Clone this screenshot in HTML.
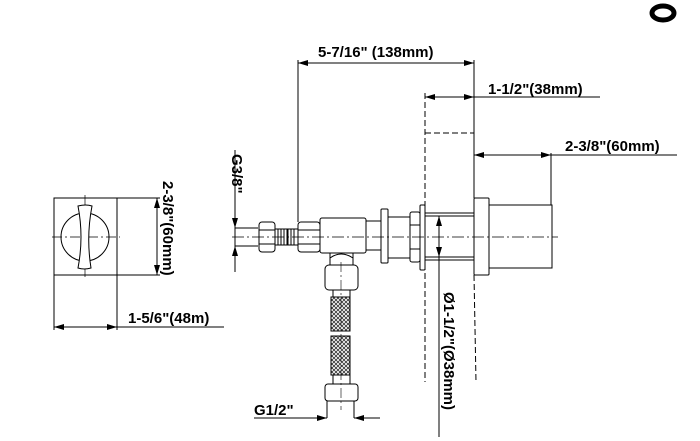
<!DOCTYPE html>
<html><head><style>body{margin:0;background:#fff}svg{display:block}text{font-family:"Liberation Sans",sans-serif;font-weight:bold;fill:#000}</style></head>
<body>
<svg width="700" height="441" viewBox="0 0 700 441" xmlns="http://www.w3.org/2000/svg">
<defs>
<marker id="a" markerWidth="10" markerHeight="6" refX="10" refY="3" orient="auto-start-reverse" markerUnits="userSpaceOnUse"><path d="M0,0 L10,3 L0,6z" fill="#000"/></marker>
<pattern id="m" width="4" height="4" patternUnits="userSpaceOnUse"><path d="M0,0 L4,4 M4,0 L0,4" stroke="#333" stroke-width="0.8"/></pattern>
</defs>
<g fill="none" stroke="#000" stroke-width="1">
<ellipse cx="663" cy="13" rx="11" ry="7" stroke-width="5"/>
<!-- left view -->
<rect x="54" y="198" width="63" height="77"/>
<line x1="54" y1="275" x2="54" y2="330"/><line x1="117" y1="275" x2="117" y2="330"/>
<line x1="54" y1="327" x2="117" y2="327" marker-start="url(#a)" marker-end="url(#a)"/>
<line x1="117" y1="327" x2="224" y2="327"/>
<line x1="117" y1="198" x2="160" y2="198"/><line x1="117" y1="275" x2="160" y2="275"/>
<line x1="157" y1="198" x2="157" y2="275" marker-start="url(#a)" marker-end="url(#a)"/>
<circle cx="85" cy="237" r="24"/>
<line x1="52" y1="237" x2="120" y2="237" stroke-dasharray="10,3,2,3" stroke-width="0.7"/>
<line x1="85" y1="195" x2="85" y2="278" stroke-dasharray="10,3,2,3" stroke-width="0.7"/>
<path d="M78,206 Q86,204 92,206 Q86,237 91,268 Q84,270 78,268 Q84,237 78,206z" fill="#fff"/>
<!-- G3/8 dim -->
<line x1="235" y1="150" x2="235" y2="272"/>
<line x1="235" y1="212" x2="235" y2="228" marker-end="url(#a)"/>
<line x1="235" y1="262" x2="235" y2="246" marker-end="url(#a)"/>
<line x1="235" y1="228" x2="258" y2="228"/><line x1="235" y1="246" x2="258" y2="246"/>
<!-- assembly -->
<rect x="259" y="222" width="16" height="30" rx="3"/>
<line x1="259" y1="230" x2="275" y2="230"/><line x1="259" y1="244" x2="275" y2="244"/>
<rect x="275" y="229" width="12" height="16"/>
<path d="M278,229v16M281,229v16M284,229v16M291,229v16M294,229v16"/>
<rect x="288" y="229" width="10" height="16"/>
<rect x="298" y="222" width="22" height="30" rx="3"/>
<line x1="298" y1="230" x2="320" y2="230"/><line x1="298" y1="244" x2="320" y2="244"/>
<rect x="320" y="218" width="46" height="35" rx="2"/>
<path d="M330,253 v12 M353,253 v12 M330,258 Q341,250 353,258"/>
<rect x="366" y="221" width="15" height="29"/>
<rect x="381" y="209" width="7" height="54" rx="1"/>
<rect x="388" y="217" width="22" height="41"/>
<rect x="410" y="212" width="10" height="50" rx="2"/>
<line x1="410" y1="225" x2="420" y2="225"/><line x1="410" y1="249" x2="420" y2="249"/>
<rect x="420" y="205" width="5" height="65" rx="1"/>
<rect x="425" y="213" width="49" height="47"/>
<line x1="425" y1="216" x2="474" y2="216"/><line x1="425" y1="257" x2="474" y2="257"/>
<rect x="474" y="198" width="15" height="77" rx="1"/>
<rect x="489" y="205" width="63" height="63"/>
<line x1="232" y1="237" x2="558" y2="237" stroke-dasharray="12,3,2,3" stroke-width="0.7"/>
<!-- hose -->
<rect x="325" y="265" width="33" height="25" rx="4"/>
<rect x="333" y="290" width="17" height="7"/>
<rect x="331" y="297" width="19" height="34" fill="url(#m)"/>
<rect x="331" y="336" width="19" height="39" fill="url(#m)"/>
<rect x="333" y="375" width="17" height="9"/>
<rect x="325" y="384" width="33" height="17" rx="3"/>
<path d="M327,401 v17 M354,401 v17"/>
<line x1="341" y1="262" x2="341" y2="410" stroke-dasharray="10,3,2,3" stroke-width="0.6"/>
<line x1="254" y1="418" x2="327" y2="418" marker-end="url(#a)"/>
<line x1="380" y1="418" x2="354" y2="418" marker-end="url(#a)"/>
<!-- dashed box -->
<line x1="425" y1="93" x2="425" y2="382" stroke-dasharray="6,3"/>
<line x1="425" y1="133" x2="474" y2="133" stroke-dasharray="6,3"/>
<line x1="474" y1="275" x2="476" y2="382" stroke-dasharray="6,3"/>
<!-- top dims -->
<line x1="298" y1="60" x2="298" y2="222"/>
<line x1="474" y1="60" x2="474" y2="198"/>
<line x1="298" y1="63" x2="474" y2="63" marker-start="url(#a)" marker-end="url(#a)"/>
<line x1="425" y1="97" x2="474" y2="97" marker-start="url(#a)" marker-end="url(#a)"/>
<line x1="474" y1="97" x2="600" y2="97"/>
<line x1="551" y1="153" x2="551" y2="205"/>
<line x1="474" y1="155" x2="551" y2="155" marker-start="url(#a)" marker-end="url(#a)"/>
<line x1="551" y1="155" x2="677" y2="155"/>
<line x1="439" y1="216" x2="439" y2="257" marker-start="url(#a)" marker-end="url(#a)"/>
<line x1="439" y1="257" x2="439" y2="437"/>
</g>
<text x="318" y="57" font-size="15">5-7/16" (138mm)</text>
<text x="488" y="94" font-size="15">1-1/2"(38mm)</text>
<text x="565" y="151" font-size="15">2-3/8"(60mm)</text>
<text x="128" y="323" font-size="15">1-5/6"(48m)</text>
<text x="254" y="415" font-size="15">G1/2"</text>
<text transform="translate(163,181) rotate(90)" font-size="15">2-3/8"(60mm)</text>
<text transform="translate(232,154) rotate(90)" font-size="15">G3/8"</text>
<text transform="translate(444,292) rotate(90)" font-size="15">Ø1-1/2"(Ø38mm)</text>
</svg>
</body></html>
